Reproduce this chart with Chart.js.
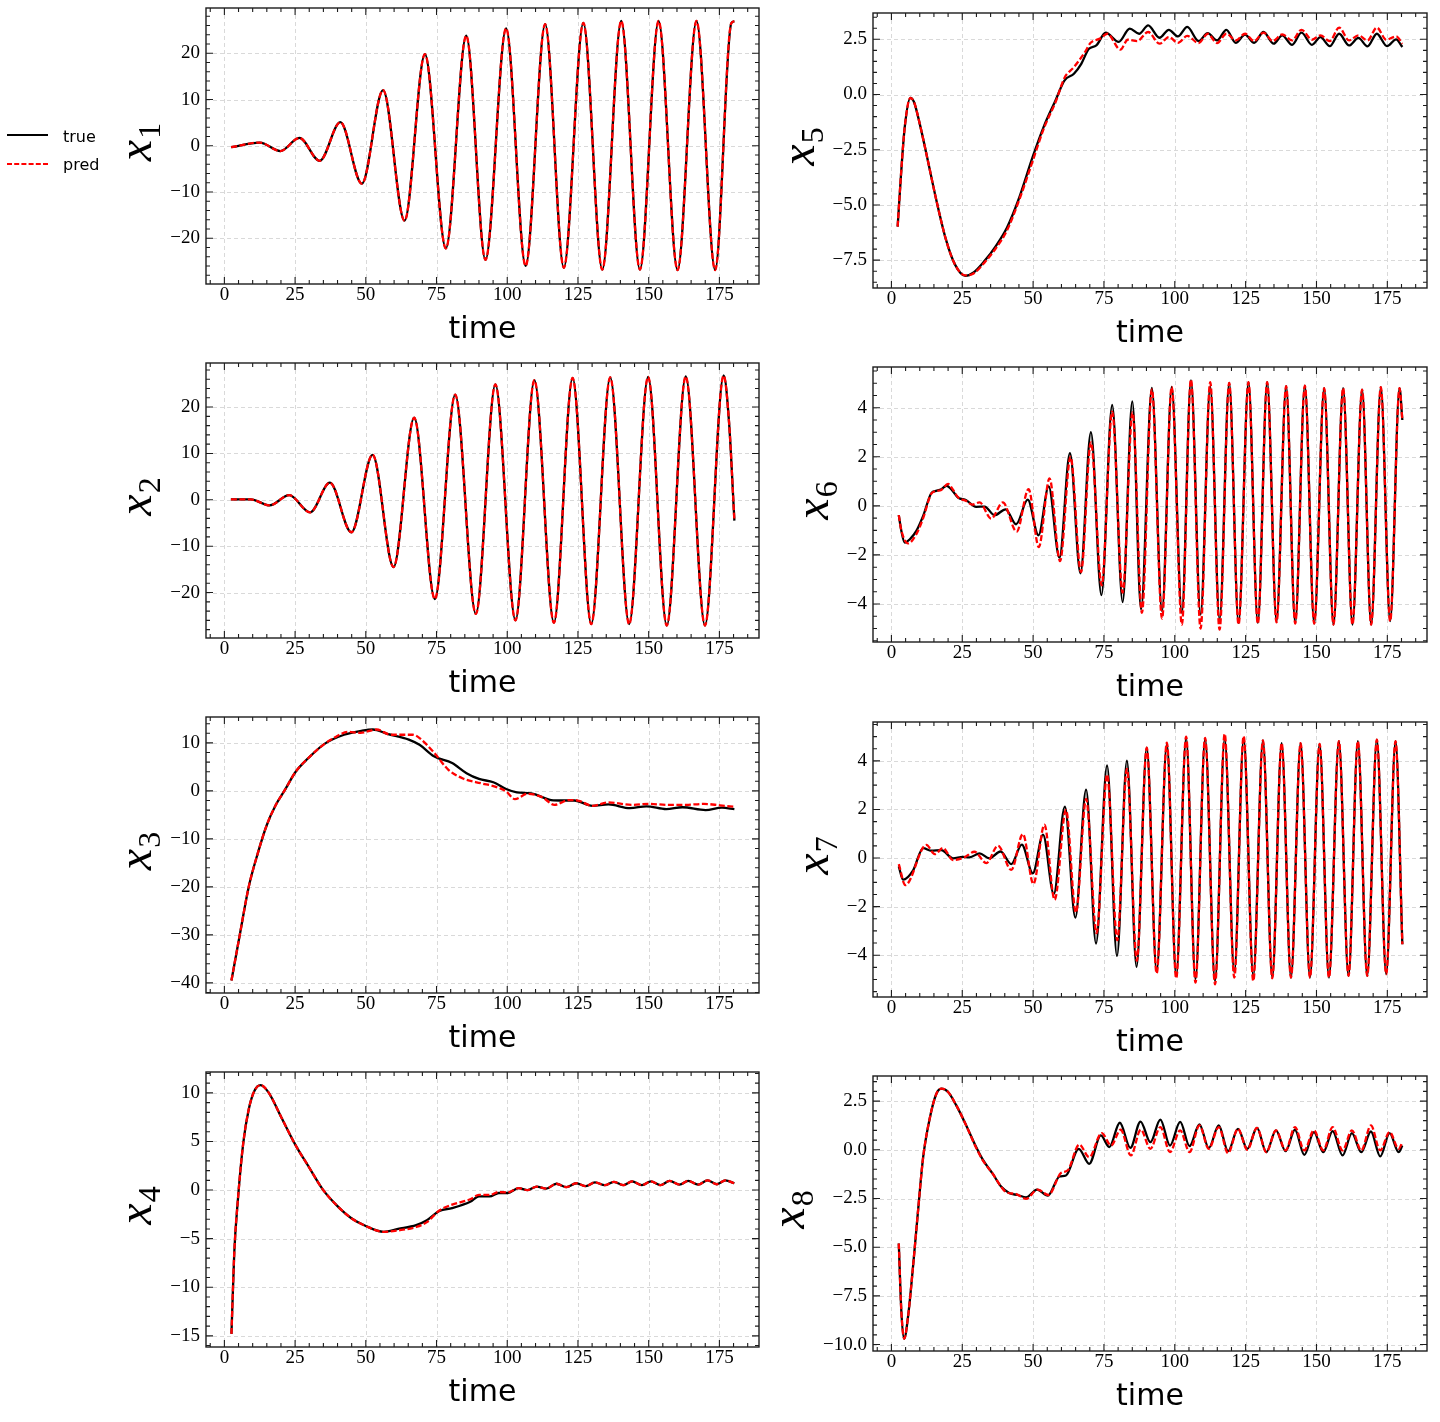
<!DOCTYPE html>
<html>
<head>
<meta charset="utf-8">
<script src="https://cdn.jsdelivr.net/npm/chart.js@4.4.1/dist/chart.umd.min.js"></script>
<style>
html, body { margin: 0; padding: 0; background: #ffffff; }
body { width: 1440px; height: 1422px; position: relative; overflow: hidden; }
canvas { position: absolute; }
#legend { position: absolute; left: 0; top: 120px; z-index: 5; }
</style>
</head>
<body>
<svg id="legend" width="120" height="64"></svg>
<script>
// ---------------- data ----------------
const LEGEND_LABELS = ['true', 'pred'];
const Y_LABEL_BASE = 'x';
const Y_LABEL_SUBS = ['1', '2', '3', '4', '5', '6', '7', '8'];
const X_TITLE = 'time';

const X_TICKS = [0, 25, 50, 75, 100, 125, 150, 175];
const Y_TICKS_X1 = [-20, -10, 0, 10, 20];
const Y_TICKS_X2 = [-20, -10, 0, 10, 20];
const Y_TICKS_X3 = [-40, -30, -20, -10, 0, 10];
const Y_TICKS_X4 = [-15, -10, -5, 0, 5, 10];
const Y_TICKS_X5 = [-7.5, -5, -2.5, 0, 2.5];
const Y_TICKS_X6 = [-4, -2, 0, 2, 4];
const Y_TICKS_X7 = [-4, -2, 0, 2, 4];
const Y_TICKS_X8 = [-10, -7.5, -5, -2.5, 0, 2.5];

// x1 (true and pred coincide)
const T_X1 = [2.4, 12.5, 19.8, 26.5, 33.7, 41.0, 48.6, 56.1, 63.7, 70.9, 78.3, 85.5, 92.3, 99.6, 106.5, 113.4, 120.0, 126.9, 133.6, 140.3, 146.9, 153.5, 160.2, 166.9, 173.5, 179.2, 180.3];
const V_X1 = [-0.3, 0.7, -1.15, 1.7, -3.25, 5.1, -8.2, 12.05, -16.2, 19.8, -22.2, 23.8, -24.7, 25.4, -26.0, 26.3, -26.4, 26.6, -26.8, 27.0, -26.8, 27.0, -26.9, 27.0, -26.9, 26.5, 26.9];

// x2 (true and pred coincide)
const T_X2 = [2.3, 9.3, 16.0, 22.9, 30.3, 37.3, 44.9, 52.4, 59.8, 67.1, 74.4, 81.6, 88.9, 95.8, 102.9, 109.6, 116.5, 123.1, 129.7, 136.4, 143.1, 149.8, 156.4, 163.1, 169.9, 176.5, 178.4, 180.3];
const V_X2 = [0.1, 0.1, -1.2, 1.0, -2.7, 3.7, -7.0, 9.7, -14.5, 17.7, -21.4, 22.7, -24.6, 24.9, -26.0, 25.8, -26.5, 26.3, -26.8, 26.4, -26.8, 26.5, -27.1, 26.6, -27.1, 26.8, 16.8, -4.5];

// x3
const T_X3_TRUE = [2.5, 5.5, 8.6, 11.8, 15.0, 18.2, 21.4, 25.2, 29.6, 35.4, 42.3, 48.7, 52.5, 57.6, 65.2, 69.0, 74.1, 80.5, 85.6, 90.0, 95.1, 99.6, 103.4, 108.5, 115.5, 119.9, 123.7, 130.1, 135.8, 143.4, 149.2, 156.2, 161.9, 170.1, 175.9, 180.3];
const V_X3_TRUE = [-39.5, -29.8, -20.0, -13.0, -7.1, -2.9, 0.2, 4.0, 6.8, 9.8, 11.7, 12.55, 12.8, 11.9, 10.7, 9.6, 7.2, 5.8, 3.7, 2.5, 1.8, 0.4, -0.3, -0.5, -1.9, -2.0, -2.0, -3.1, -2.8, -3.6, -3.2, -3.8, -3.4, -4.0, -3.5, -3.8];
const T_X3_PRED = [2.5, 5.5, 8.6, 11.8, 15.0, 18.2, 21.4, 25.2, 29.6, 35.4, 39.5, 43.6, 48.1, 53.8, 58.9, 66.5, 69.0, 74.1, 79.2, 84.3, 90.7, 95.7, 99.6, 102.7, 107.2, 112.3, 116.7, 121.8, 125.0, 130.1, 135.8, 144.1, 149.8, 156.8, 163.1, 169.5, 175.2, 180.3];
const V_X3_PRED = [-39.5, -29.8, -20.0, -13.0, -7.1, -2.9, 0.2, 4.0, 6.8, 9.8, 11.3, 12.3, 12.1, 12.8, 11.7, 11.7, 11.0, 8.0, 4.4, 2.6, 1.6, 0.9, -0.1, -1.7, -0.6, -1.3, -2.9, -1.9, -2.0, -3.1, -2.4, -2.9, -2.7, -2.9, -2.9, -2.7, -3.0, -3.3];

// x4
const T_X4 = [2.5, 3.5, 4.8, 6.7, 8.6, 10.6, 12.8, 15.6, 20.1, 25.2, 29.6, 34.7, 39.8, 44.9, 50.0, 56.3, 61.4, 67.8, 71.6, 76.0, 80.5, 86.9, 90.0, 93.8, 97.0, 100.2, 104.0, 107.2, 110.4, 113.8, 117.4, 120.9, 124.4, 127.8, 131.0, 134.5, 137.7, 141.1, 144.1, 147.6, 150.8, 154.2, 157.4, 160.9, 164.0, 167.5, 170.8, 174.1, 177.1, 180.3];
const V_X4_TRUE = [-14.8, -6.4, -0.9, 4.9, 8.3, 10.2, 10.8, 10.05, 7.5, 4.6, 2.5, 0.1, -1.6, -2.9, -3.7, -4.3, -4.0, -3.6, -3.1, -2.15, -1.85, -1.2, -0.65, -0.65, -0.3, -0.3, 0.2, 0.0, 0.35, 0.15, 0.65, 0.3, 0.7, 0.4, 0.8, 0.5, 0.85, 0.5, 0.9, 0.5, 0.9, 0.5, 0.95, 0.55, 0.95, 0.55, 1.0, 0.6, 1.0, 0.7];
const V_X4_PRED = [-14.8, -6.4, -0.9, 4.9, 8.3, 10.2, 10.8, 10.05, 7.5, 4.6, 2.5, 0.1, -1.6, -2.9, -3.7, -4.3, -4.15, -3.8, -3.3, -2.1, -1.5, -0.95, -0.5, -0.5, -0.2, -0.25, 0.2, 0.0, 0.35, 0.15, 0.65, 0.3, 0.7, 0.4, 0.8, 0.5, 0.85, 0.5, 0.9, 0.5, 0.9, 0.5, 0.95, 0.55, 0.95, 0.55, 1.0, 0.6, 1.0, 0.7];

// x5
const T_X5_TRUE = [2.2, 3.4, 4.7, 6.7, 8.0, 10.0, 12.6, 15.9, 19.2, 22.4, 26.1, 29.0, 32.9, 36.9, 40.8, 44.7, 50.0, 53.9, 57.9, 61.1, 64.4, 67.0, 69.7, 72.3, 75.6, 80.2, 84.1, 87.4, 90.6, 94.6, 97.9, 101.1, 104.4, 108.4, 111.6, 114.9, 118.2, 121.5, 124.8, 128.0, 131.3, 134.9, 137.9, 141.4, 144.7, 148.4, 151.4, 154.7, 158.0, 161.5, 164.8, 168.0, 171.3, 174.9, 178.1, 180.3];
const V_X5_TRUE = [-5.98, -3.6, -1.48, -0.15, -0.35, -1.33, -2.84, -4.81, -6.55, -7.69, -8.21, -8.06, -7.53, -6.85, -6.02, -4.81, -2.77, -1.41, -0.27, 0.64, 0.94, 1.39, 2.07, 2.22, 2.80, 2.38, 2.98, 2.75, 3.13, 2.57, 2.93, 2.63, 3.06, 2.42, 2.78, 2.45, 2.93, 2.34, 2.71, 2.34, 2.83, 2.30, 2.68, 2.25, 2.80, 2.25, 2.60, 2.19, 2.75, 2.22, 2.56, 2.18, 2.75, 2.19, 2.50, 2.15];
const T_X5_PRED = [2.2, 3.4, 4.7, 6.7, 8.0, 10.0, 12.6, 15.9, 19.2, 22.4, 26.1, 29.0, 32.9, 36.9, 40.8, 46.0, 50.0, 53.9, 57.9, 61.1, 64.4, 68.3, 70.3, 73.6, 76.2, 80.8, 83.4, 86.7, 90.6, 94.6, 97.9, 101.1, 104.4, 108.4, 111.6, 114.9, 118.2, 121.5, 124.8, 128.0, 131.3, 134.6, 137.9, 141.4, 144.7, 148.4, 151.4, 154.7, 158.0, 161.5, 164.8, 168.0, 171.3, 174.6, 178.1, 180.3];
const V_X5_PRED = [-5.98, -3.6, -1.48, -0.15, -0.35, -1.33, -2.84, -4.81, -6.55, -7.69, -8.19, -8.1, -7.6, -6.95, -6.15, -4.45, -2.95, -1.5, -0.35, 0.76, 1.24, 1.92, 2.34, 2.53, 2.75, 2.03, 2.48, 2.42, 2.83, 2.30, 2.60, 2.34, 2.65, 2.33, 2.75, 2.33, 2.75, 2.45, 2.75, 2.42, 2.80, 2.42, 2.72, 2.45, 2.93, 2.48, 2.68, 2.42, 3.03, 2.45, 2.68, 2.45, 3.03, 2.48, 2.63, 2.30];

// x6
const T_X6_TRUE = [2.6, 3.5, 4.7, 6.5, 8.8, 11.2, 14.1, 15.8, 17.6, 19.4, 21.1, 23.5, 26.4, 29.9, 32.9, 36.4, 40.3, 44.0, 48.1, 51.9, 55.5, 59.3, 63.0, 66.7, 70.4, 74.1, 77.9, 81.6, 85.0, 88.1, 91.9, 95.5, 98.9, 102.5, 105.7, 109.1, 112.5, 115.8, 119.2, 122.5, 126.0, 129.3, 132.6, 135.9, 139.3, 142.5, 145.9, 149.2, 152.7, 156.0, 159.4, 162.7, 166.1, 169.3, 172.7, 176.0, 179.3, 180.3];
const V_X6_TRUE = [-0.38, -1.02, -1.5, -1.36, -1.02, -0.41, 0.52, 0.61, 0.68, 0.82, 0.68, 0.34, 0.23, -0.04, -0.03, -0.38, -0.14, -0.75, 0.25, -1.2, 0.79, -2.11, 2.15, -2.75, 3.0, -3.64, 4.11, -3.92, 4.26, -4.22, 4.81, -4.29, 4.85, -4.36, 5.11, -4.43, 4.86, -4.63, 5.01, -4.77, 5.04, -4.77, 5.04, -4.70, 4.88, -4.77, 4.90, -4.80, 4.80, -4.84, 4.80, -4.84, 4.74, -4.84, 4.84, -4.70, 4.80, 3.5];
const T_X6_PRED = [2.6, 3.5, 5.9, 8.8, 11.2, 14.1, 15.8, 17.6, 20.0, 21.6, 23.5, 26.4, 28.5, 31.1, 35.2, 39.3, 44.2, 48.4, 52.0, 55.8, 59.5, 63.2, 66.9, 70.4, 74.2, 77.9, 81.6, 85.1, 88.4, 91.9, 95.5, 98.9, 102.5, 105.7, 109.1, 112.5, 115.8, 119.2, 122.5, 126.0, 129.3, 132.6, 135.9, 139.3, 142.5, 145.9, 149.2, 152.7, 156.0, 159.4, 162.7, 166.1, 169.3, 172.7, 176.0, 179.3, 180.3];
const V_X6_PRED = [-0.38, -1.0, -1.53, -1.15, -0.5, 0.5, 0.6, 0.65, 0.89, 0.68, 0.35, 0.2, 0.05, 0.14, -0.52, 0.14, -1.05, 0.68, -1.68, 1.12, -2.25, 2.0, -2.7, 2.59, -3.24, 3.84, -3.54, 3.81, -4.36, 4.75, -4.6, 4.85, -4.84, 5.15, -5.0, 5.04, -5.04, 5.01, -4.84, 5.04, -4.8, 5.04, -4.75, 4.88, -4.8, 4.90, -4.80, 4.80, -4.84, 4.80, -4.84, 4.74, -4.84, 4.84, -4.70, 4.80, 3.5];

// x7
const T_X7_TRUE = [2.6, 4.1, 7.6, 11.2, 14.1, 17.6, 21.7, 25.2, 27.6, 31.1, 34.6, 38.5, 42.3, 46.0, 49.9, 53.5, 57.3, 61.2, 64.9, 68.7, 72.2, 76.1, 79.6, 83.1, 86.5, 90.1, 93.6, 97.2, 100.5, 104.0, 107.3, 110.7, 114.2, 117.6, 121.0, 124.3, 127.7, 131.1, 134.4, 137.7, 141.0, 144.4, 147.7, 151.1, 154.4, 157.9, 161.3, 164.6, 167.9, 171.3, 174.6, 177.9, 180.3];
const V_X7_TRUE = [-0.34, -0.89, -0.52, 0.41, 0.30, 0.33, -0.01, 0.05, 0.03, 0.19, -0.01, 0.27, -0.25, 0.55, -0.63, 0.96, -1.48, 2.12, -2.45, 2.82, -3.52, 3.81, -4.03, 4.01, -4.48, 4.54, -4.67, 4.70, -4.85, 4.95, -4.99, 4.91, -5.06, 4.91, -4.7, 4.91, -4.85, 4.84, -4.92, 4.73, -4.92, 4.73, -4.92, 4.70, -4.92, 4.81, -4.85, 4.81, -4.85, 4.87, -4.78, 4.81, -3.55];
const T_X7_PRED = [2.6, 4.9, 12.3, 15.3, 18.2, 21.7, 25.8, 29.3, 33.5, 37.6, 42.3, 46.4, 50.1, 54.0, 57.6, 61.6, 65.1, 68.7, 72.4, 76.1, 79.7, 83.1, 86.6, 90.1, 93.6, 97.2, 100.5, 104.0, 107.3, 110.7, 114.2, 117.6, 121.0, 124.3, 127.7, 131.1, 134.4, 137.7, 141.0, 144.4, 147.7, 151.1, 154.4, 157.9, 161.3, 164.6, 167.9, 171.3, 174.6, 177.9, 180.3];
const V_X7_PRED = [-0.25, -1.11, 0.54, 0.16, 0.41, -0.08, 0.03, 0.26, -0.21, 0.51, -0.49, 0.99, -1.07, 1.37, -1.72, 1.98, -2.24, 2.43, -3.09, 3.44, -3.38, 3.67, -4.23, 4.54, -4.75, 4.75, -4.95, 5.0, -5.13, 4.95, -5.2, 5.11, -4.92, 5.02, -5.06, 4.84, -4.95, 4.73, -4.92, 4.73, -4.92, 4.70, -4.92, 4.81, -4.85, 4.81, -4.85, 4.87, -4.78, 4.81, -3.55];

// x8
const T_X8_TRUE = [2.6, 3.5, 4.5, 5.9, 7.6, 9.4, 11.2, 13.5, 15.8, 17.6, 20.0, 22.9, 26.4, 29.9, 32.3, 35.8, 38.7, 41.7, 44.6, 47.5, 51.4, 55.2, 59.3, 61.6, 66.1, 69.8, 73.9, 76.9, 80.6, 84.3, 87.9, 91.4, 94.9, 98.3, 101.9, 105.2, 108.7, 112.0, 115.5, 118.8, 122.3, 125.6, 129.0, 132.3, 135.7, 139.1, 142.4, 145.7, 149.1, 152.4, 155.7, 159.2, 162.5, 165.8, 169.2, 172.5, 175.8, 179.0, 180.3];
const V_X8_TRUE = [-4.81, -8.28, -9.70, -8.53, -6.04, -3.12, -0.38, 1.60, 2.85, 3.14, 2.97, 2.28, 1.25, 0.14, -0.52, -1.24, -1.89, -2.23, -2.32, -2.44, -2.04, -2.35, -1.37, -1.32, 0.05, -0.72, 0.74, 0.14, 1.39, 0.10, 1.45, 0.39, 1.55, 0.22, 1.43, 0.19, 1.30, 0.09, 1.25, -0.07, 1.08, 0.05, 1.13, -0.12, 1.0, -0.07, 1.03, -0.26, 0.91, -0.12, 0.96, -0.29, 0.86, -0.12, 0.94, -0.34, 0.86, -0.12, 0.22];
const T_X8_PRED = [2.6, 3.5, 4.5, 5.9, 7.6, 9.4, 11.2, 13.5, 15.8, 17.6, 20.0, 22.9, 26.4, 29.9, 32.3, 35.8, 38.7, 40.5, 44.0, 47.5, 51.6, 55.4, 59.9, 62.2, 66.3, 69.8, 74.2, 77.5, 80.9, 84.5, 88.0, 91.4, 94.9, 98.3, 101.9, 105.2, 108.7, 112.0, 115.5, 118.8, 122.3, 125.6, 129.0, 132.3, 135.7, 139.1, 142.4, 145.7, 149.1, 152.4, 155.7, 159.2, 162.5, 165.8, 169.2, 172.5, 175.8, 179.0, 180.3];
const V_X8_PRED = [-4.81, -8.28, -9.70, -8.53, -6.04, -3.12, -0.38, 1.60, 2.85, 3.14, 2.97, 2.28, 1.25, 0.10, -0.55, -1.24, -1.89, -2.18, -2.27, -2.52, -2.04, -2.32, -1.18, -1.06, 0.27, -0.38, 0.86, 0.22, 1.03, -0.29, 1.03, 0.05, 1.17, -0.12, 1.0, -0.12, 1.25, 0.05, 1.17, -0.17, 1.08, 0.0, 1.13, -0.12, 1.0, -0.03, 1.17, -0.03, 1.0, -0.03, 1.17, -0.03, 1.0, -0.03, 1.25, -0.03, 0.91, 0.05, 0.39];

// ---------------- axes limits ----------------
const X_MIN = -6.5, X_MAX = 189.0;

// ---------------- panels (built from the arrays above) ----------------
const PANELS = [
  { sub: Y_LABEL_SUBS[0], tT: T_X1, tV: V_X1, pT: T_X1, pV: V_X1, ymin: -29.9, ymax: 29.8, yticks: Y_TICKS_X1, dec: 0, yMinor: 2 },
  { sub: Y_LABEL_SUBS[1], tT: T_X2, tV: V_X2, pT: T_X2, pV: V_X2, ymin: -29.8, ymax: 29.5, yticks: Y_TICKS_X2, dec: 0, yMinor: 2 },
  { sub: Y_LABEL_SUBS[2], tT: T_X3_TRUE, tV: V_X3_TRUE, pT: T_X3_PRED, pV: V_X3_PRED, ymin: -42.1, ymax: 15.4, yticks: Y_TICKS_X3, dec: 0, yMinor: 2 },
  { sub: Y_LABEL_SUBS[3], tT: T_X4, tV: V_X4_TRUE, pT: T_X4, pV: V_X4_PRED, ymin: -16.15, ymax: 12.15, yticks: Y_TICKS_X4, dec: 0, yMinor: 1 },
  { sub: Y_LABEL_SUBS[4], tT: T_X5_TRUE, tV: V_X5_TRUE, pT: T_X5_PRED, pV: V_X5_PRED, ymin: -8.76, ymax: 3.69, yticks: Y_TICKS_X5, dec: 1, yMinor: 0.5 },
  { sub: Y_LABEL_SUBS[5], tT: T_X6_TRUE, tV: V_X6_TRUE, pT: T_X6_PRED, pV: V_X6_PRED, ymin: -5.55, ymax: 5.66, yticks: Y_TICKS_X6, dec: 0, yMinor: 0.5 },
  { sub: Y_LABEL_SUBS[6], tT: T_X7_TRUE, tV: V_X7_TRUE, pT: T_X7_PRED, pV: V_X7_PRED, ymin: -5.72, ymax: 5.60, yticks: Y_TICKS_X7, dec: 0, yMinor: 0.5 },
  { sub: Y_LABEL_SUBS[7], tT: T_X8_TRUE, tV: V_X8_TRUE, pT: T_X8_PRED, pV: V_X8_PRED, ymin: -10.33, ymax: 3.79, yticks: Y_TICKS_X8, dec: 1, yMinor: 0.5 }
];

// plot-area rectangles on the page (layout only)
const LAYOUT = [
  { l: 206, t: 8,    r: 759,  b: 284 },
  { l: 206, t: 363,  r: 759,  b: 638 },
  { l: 206, t: 717,  r: 759,  b: 993 },
  { l: 206, t: 1072, r: 759,  b: 1347 },
  { l: 873, t: 13,   r: 1427, b: 288 },
  { l: 873, t: 367,  r: 1427, b: 642 },
  { l: 873, t: 722,  r: 1427, b: 997 },
  { l: 873, t: 1076, r: 1427, b: 1351 }
];

const YW = 125, PT = 10, PR = 10, XH = 72;
const TICK_FAMILY = '"Liberation Serif"';
const TICK_SIZE = 19;
const TICK_FONT = { family: TICK_FAMILY, size: TICK_SIZE, lineHeight: 1.0 };

function pts(T, V) {
  const n = Math.min(T.length, V.length);
  const out = [];
  for (let i = 0; i < n; i++) out.push({ x: T[i], y: V[i] });
  return out;
}
function fmt(v, dec) {
  const s = Math.abs(v).toFixed(dec);
  return (v < 0 ? '\u2212' : '') + s;
}

// grid, frame and inward ticks
const framePlugin = {
  id: 'frame',
  beforeDatasetsDraw(chart) {
    const { ctx, chartArea: a, scales: { x, y } } = chart;
    ctx.save();
    ctx.strokeStyle = '#d9d9d9';
    ctx.lineWidth = 1;
    ctx.setLineDash([4, 3]);
    ctx.beginPath();
    x.ticks.forEach(t => { const p = Math.round(x.getPixelForValue(t.value)) + 0.5; ctx.moveTo(p, a.top); ctx.lineTo(p, a.bottom); });
    y.ticks.forEach(t => { const p = Math.round(y.getPixelForValue(t.value)) + 0.5; ctx.moveTo(a.left, p); ctx.lineTo(a.right, p); });
    ctx.stroke();
    ctx.restore();
  },
  afterDatasetsDraw(chart, args, o) {
    const { ctx, chartArea: a, scales: { x, y } } = chart;
    ctx.save();
    ctx.setLineDash([]);
    ctx.strokeStyle = '#1c1c1c';
    ctx.lineWidth = 1.4;
    ctx.strokeRect(a.left, a.top, a.right - a.left, a.bottom - a.top);
    ctx.lineWidth = 1.1;
    const majX = x.ticks.map(t => t.value), majY = y.ticks.map(t => t.value);
    const minors = (min, max, step, maj) => {
      const out = [];
      for (let k = Math.ceil(min / step); k * step <= max; k++) {
        const v = k * step;
        if (!maj.some(m => Math.abs(m - v) < step * 1e-3)) out.push(v);
      }
      return out;
    };
    ctx.beginPath();
    const xs = (v, len) => { const p = x.getPixelForValue(v); ctx.moveTo(p, a.bottom); ctx.lineTo(p, a.bottom - len); ctx.moveTo(p, a.top); ctx.lineTo(p, a.top + len); };
    const ys = (v, len) => { const p = y.getPixelForValue(v); ctx.moveTo(a.left, p); ctx.lineTo(a.left + len, p); ctx.moveTo(a.right, p); ctx.lineTo(a.right - len, p); };
    majX.forEach(v => xs(v, 7));
    minors(x.min, x.max, o.xMinor, majX).forEach(v => xs(v, 4));
    majY.forEach(v => ys(v, 7));
    minors(y.min, y.max, o.yMinor, majY).forEach(v => ys(v, 4));
    ctx.stroke();
    ctx.restore();
  }
};

// rotated y label "x" with subscript
const yLabelPlugin = {
  id: 'ylab',
  afterDraw(chart, args, o) {
    const { ctx, chartArea: a, scales: { y } } = chart;
    ctx.save();
    ctx.font = TICK_SIZE + 'px ' + TICK_FAMILY;
    let w = 0;
    y.ticks.forEach(t => { w = Math.max(w, ctx.measureText(String(t.label)).width); });
    const drop = 9;
    const bx = a.left - 6 - w - 10 - drop;
    const fMain = 'italic 48px "Liberation Serif"', fSub = '32px "Liberation Serif"';
    ctx.font = fMain; const w1 = ctx.measureText(o.base).width;
    ctx.font = fSub; const w2 = ctx.measureText(o.sub).width;
    const total = w1 + w2 + 1;
    const cy = (a.top + a.bottom) / 2 - 4;
    ctx.translate(bx, cy);
    ctx.rotate(-Math.PI / 2);
    ctx.fillStyle = '#000';
    ctx.textBaseline = 'alphabetic';
    ctx.textAlign = 'left';
    ctx.font = fMain; ctx.fillText(o.base, -total / 2, 0);
    ctx.font = fSub; ctx.fillText(o.sub, -total / 2 + w1 + 1, drop);
    ctx.restore();
  }
};

PANELS.forEach((p, i) => {
  const L = LAYOUT[i];
  const cv = document.createElement('canvas');
  const W = (L.r - L.l) + YW + PR;
  const H = (L.b - L.t) + PT + XH;
  cv.width = W; cv.height = H;
  cv.style.left = (L.l - YW) + 'px';
  cv.style.top = (L.t - PT) + 'px';
  cv.style.width = W + 'px';
  cv.style.height = H + 'px';
  document.body.appendChild(cv);

  new Chart(cv, {
    type: 'line',
    data: {
      datasets: [
        { label: LEGEND_LABELS[0], order: 2, data: pts(p.tT, p.tV), borderColor: '#000000', borderWidth: 2.3,
          pointRadius: 0, cubicInterpolationMode: 'monotone', fill: false, borderJoinStyle: 'round' },
        { label: LEGEND_LABELS[1], order: 1, data: pts(p.pT, p.pV), borderColor: '#ff0000', borderWidth: 2.3,
          borderDash: [6, 2.5], pointRadius: 0, cubicInterpolationMode: 'monotone', fill: false, borderJoinStyle: 'round' }
      ]
    },
    options: {
      responsive: false,
      animation: false,
      events: [],
      layout: { autoPadding: false, padding: { left: 0, top: PT, right: PR, bottom: 0 } },
      plugins: {
        legend: { display: false },
        tooltip: { enabled: false },
        frame: { xMinor: 5, yMinor: p.yMinor },
        ylab: { base: Y_LABEL_BASE, sub: p.sub }
      },
      scales: {
        x: {
          type: 'linear', min: X_MIN, max: X_MAX,
          afterBuildTicks: s => { s.ticks = X_TICKS.map(v => ({ value: v })); },
          afterFit: s => { s.height = XH; s.paddingLeft = 0; s.paddingRight = 0; },
          grid: { display: false, drawTicks: false },
          border: { display: false },
          ticks: { font: TICK_FONT, color: '#000', padding: 2, maxRotation: 0, autoSkip: false,
                   callback: v => fmt(v, 0) },
          title: { display: true, text: X_TITLE, color: '#000',
                   font: { family: '"DejaVu Sans"', size: 30, lineHeight: 1.2 },
                   padding: { top: 0, bottom: 8 } }
        },
        y: {
          type: 'linear', min: p.ymin, max: p.ymax,
          afterBuildTicks: s => { s.ticks = p.yticks.map(v => ({ value: v })); },
          afterFit: s => { s.width = YW; s.paddingTop = 0; s.paddingBottom = 0; },
          grid: { display: false, drawTicks: false },
          border: { display: false },
          ticks: { font: TICK_FONT, color: '#000', padding: 6, autoSkip: false,
                   callback: v => fmt(v, p.dec) }
        }
      }
    },
    plugins: [framePlugin, yLabelPlugin]
  });
});

// legend (figure level, left side)
(function () {
  const svg = document.getElementById('legend');
  const NS = 'http://www.w3.org/2000/svg';
  const rows = [
    { y: 15, color: '#000000', dash: null, text: LEGEND_LABELS[0], ty: 22 },
    { y: 44, color: '#ff0000', dash: '5 2.2', text: LEGEND_LABELS[1], ty: 50 }
  ];
  rows.forEach(r => {
    const ln = document.createElementNS(NS, 'line');
    ln.setAttribute('x1', 7); ln.setAttribute('x2', 48);
    ln.setAttribute('y1', r.y); ln.setAttribute('y2', r.y);
    ln.setAttribute('stroke', r.color); ln.setAttribute('stroke-width', 2);
    if (r.dash) ln.setAttribute('stroke-dasharray', r.dash);
    svg.appendChild(ln);
    const tx = document.createElementNS(NS, 'text');
    tx.setAttribute('x', 63); tx.setAttribute('y', r.ty);
    tx.setAttribute('font-family', 'DejaVu Sans'); tx.setAttribute('font-size', 16);
    tx.setAttribute('fill', '#000');
    tx.textContent = r.text;
    svg.appendChild(tx);
  });
})();
</script>
</body>
</html>
